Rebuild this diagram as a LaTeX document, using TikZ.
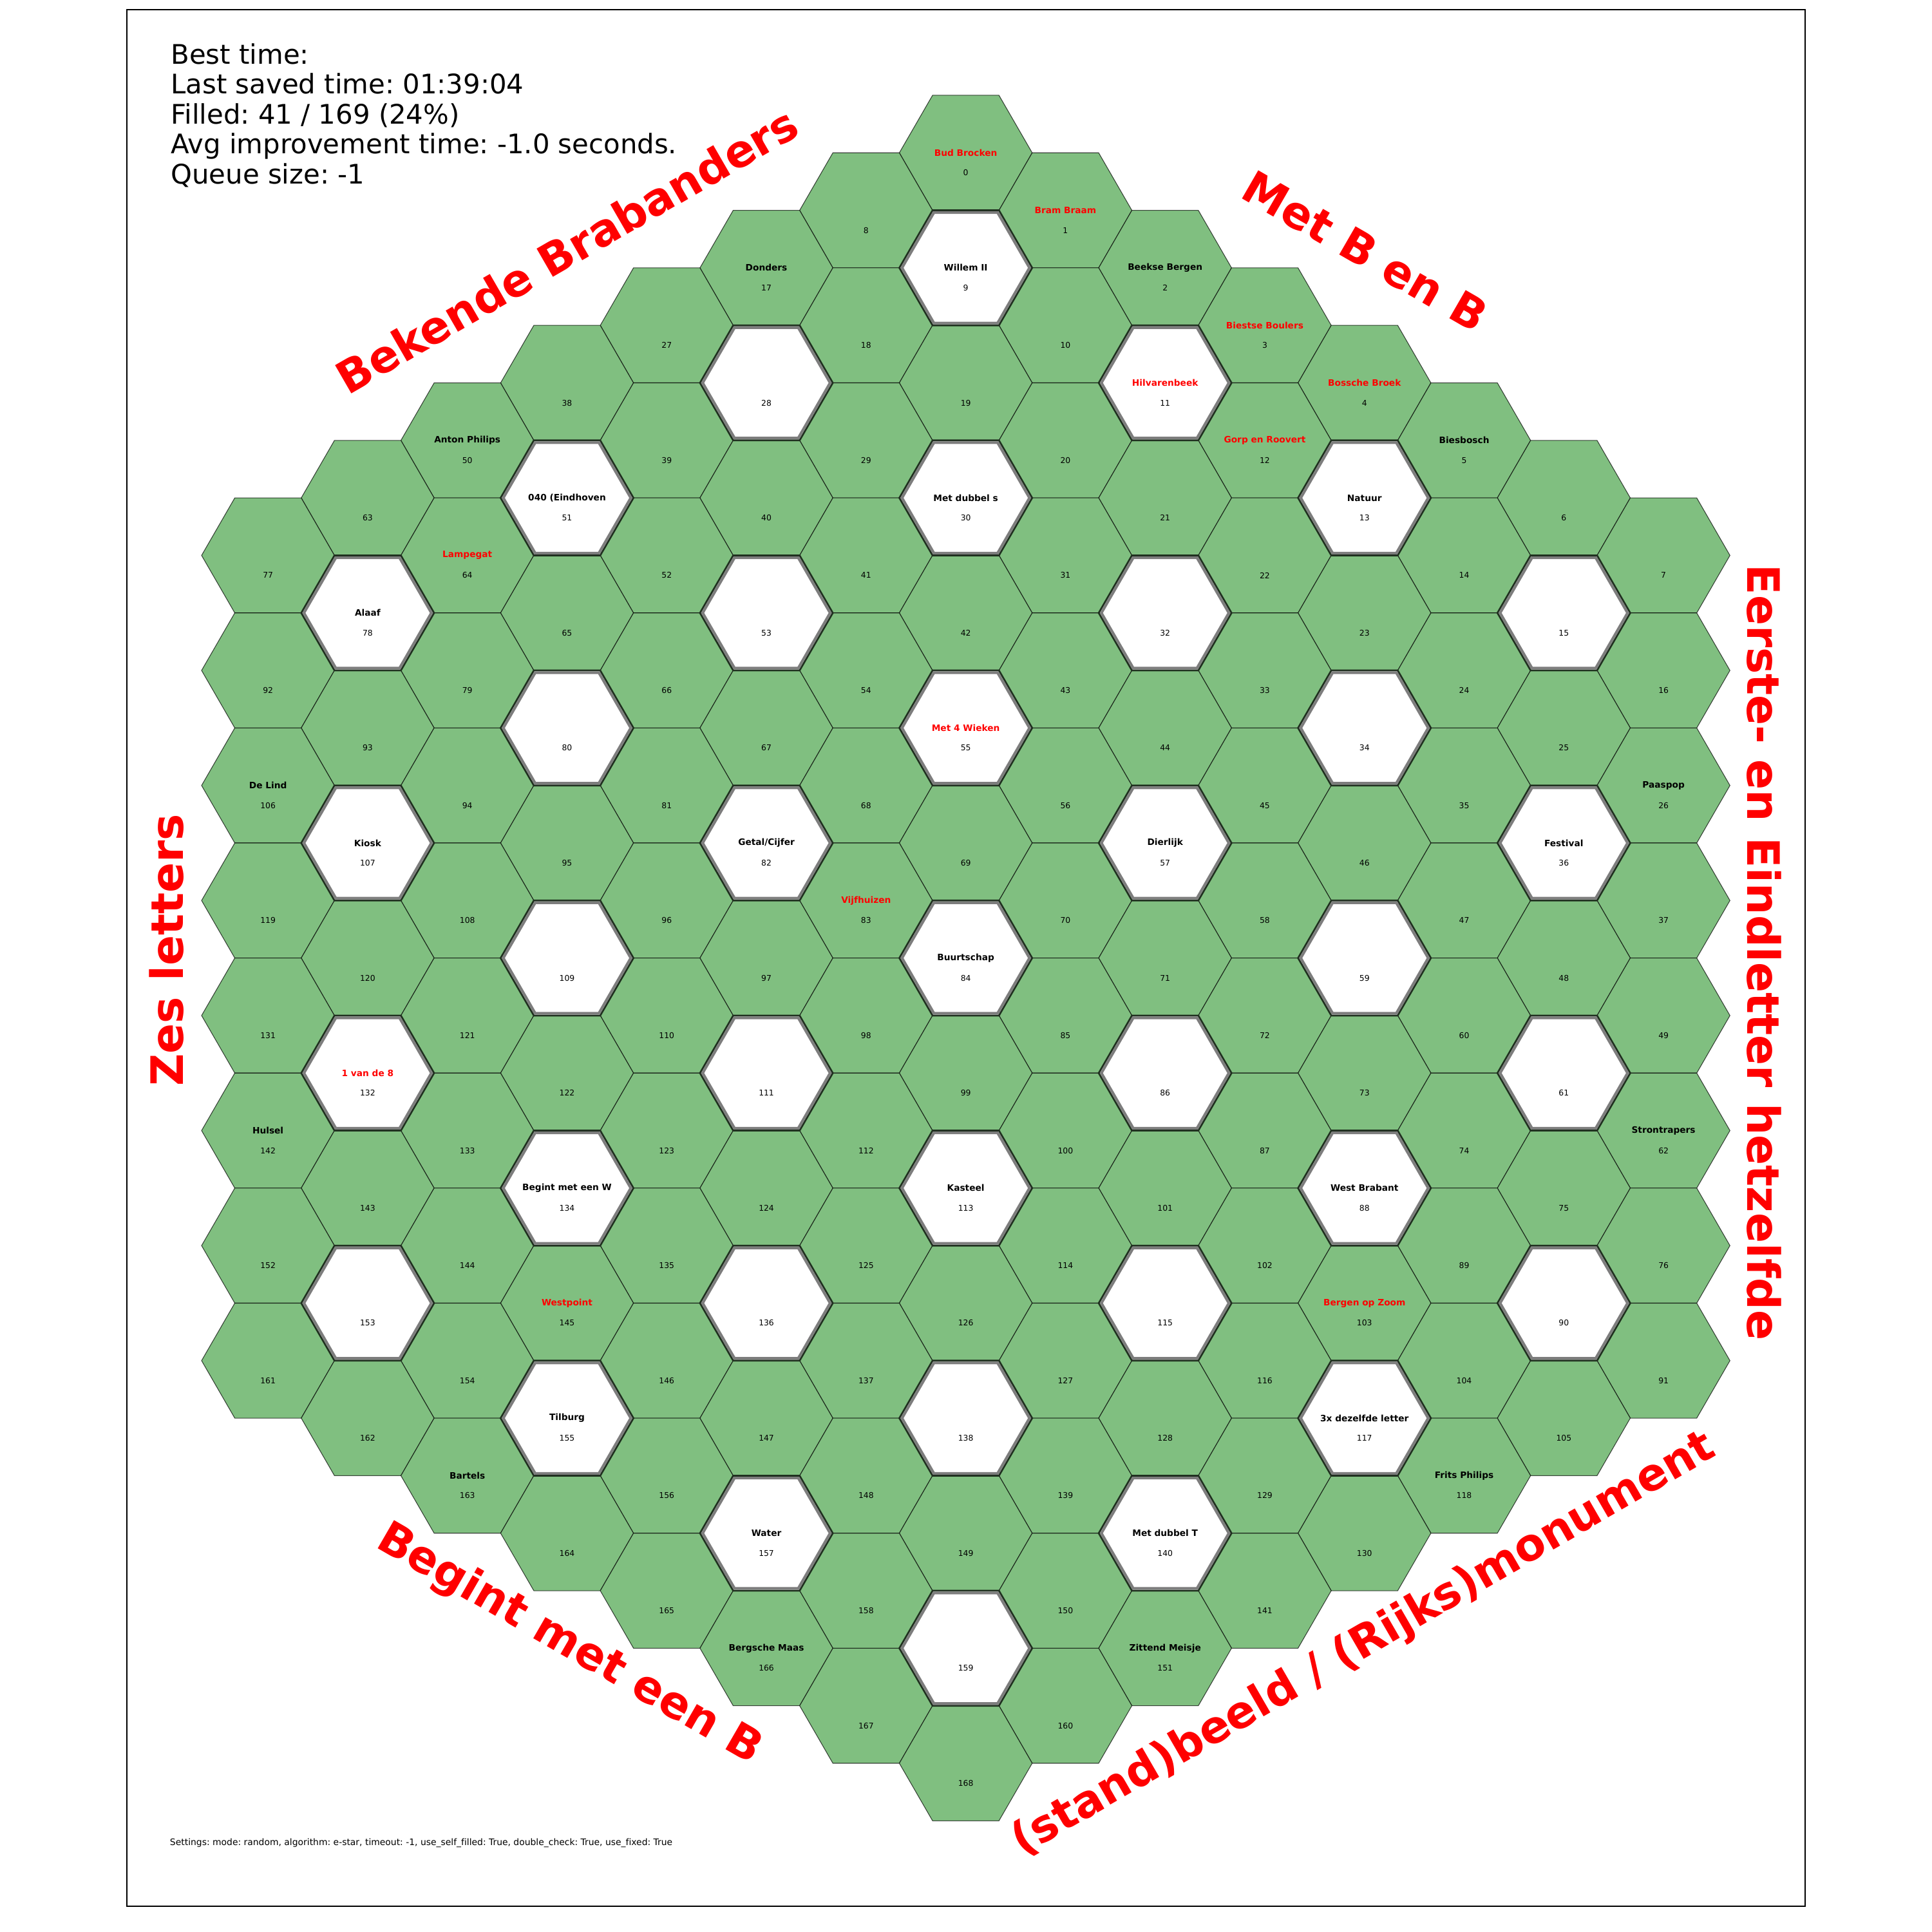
\documentclass[tikz,border=0pt]{standalone}
\usepackage{fontspec}
\setmainfont{DejaVu Sans}[Ligatures=NoCommon]
\frenchspacing
\definecolor{hexgreen}{RGB}{128,191,128}
\definecolor{rimgray}{RGB}{125,125,125}
\pgfdeclarelayer{back}
\pgfsetlayers{back,main}
\tikzset{
  hexpath/.style={insert path={+(0:#1) -- +(60:#1) -- +(120:#1) -- +(180:#1) -- +(240:#1) -- +(300:#1) -- cycle}},
  cell/.style={fill=hexgreen,draw=black,draw opacity=0.7,line width=0.4pt},
  clue/.style={fill=white},
  cluerim/.style={draw=rimgray,line width=1.5pt},
  clueedge/.style={draw=black!75!hexgreen,line width=1pt},
  num/.style={inner sep=0pt,font=\fontsize{4.6}{5}\selectfont},
  fixedlbl/.style={inner sep=0pt,font=\fontsize{5.1}{6}\selectfont\bfseries},
  selflbl/.style={fixedlbl,text=red},
  side/.style={inner sep=0pt,text=red,font=\fontsize{25.8}{30}\selectfont\bfseries},
  info/.style={inner sep=0pt,anchor=base west,font=\fontsize{15.55}{18}\selectfont}
}
\begin{document}
\begin{tikzpicture}[x=0.25mm,y=-0.25mm]
\useasboundingbox (0,0) rectangle (1568,1568);
\draw[line width=0.7pt] (103,8) rectangle (1465,1547);
% 15 rows of the big hexagon, 8 .. 15 .. 8 cells
\foreach \r in {0,...,14}{
  \pgfmathtruncatemacro\cnt{\r<8 ? 8+\r : 22-\r}
  \pgfmathtruncatemacro\cs{\r<8 ? 7-\r : 0}
  \pgfmathtruncatemacro\ks{\r<8 ? \r : 2*\r-7}
  \pgfmathtruncatemacro\base{\r<8 ? 8*\r+\r*(\r-1)/2 : 92+22*(\r-8)-(\r*(\r-1)/2-28)}
  \pgfmathtruncatemacro\last{\cnt-1}
  \foreach \i in {0,...,\last}{
    \pgfmathtruncatemacro\n{\base+\i}
    \pgfmathsetmacro\cx{217.5+80.9*(\cs+\i)}
    \pgfmathsetmacro\cy{124+46.68*(\ks+\i)}
    \pgfmathtruncatemacro\clueon{mod(\r,2)*mod(\i,2)}
    \coordinate (h\n) at (\cx,\cy);
    \ifnum\clueon=1
      \path[clue] (h\n) [hexpath=53.9];
      \draw[cluerim] (h\n) [hexpath=51.7];
      \draw[clueedge] (h\n) [hexpath=53.9];
    \else
      \begin{pgfonlayer}{back}
        \path[cell] (h\n) [hexpath=53.9];
      \end{pgfonlayer}
    \fi
    \node[num] (n\n) at (\cx,{\cy+16.2}) {\n};
  }
}
% filled in
\foreach \n/\t in {2/Beekse Bergen, 5/Biesbosch, 9/Willem II, 13/Natuur, 17/Donders,
  26/Paaspop, 30/Met dubbel s, 36/Festival, 50/Anton Philips, 51/040 (Eindhoven,
  57/Dierlijk, 62/Strontrapers, 78/Alaaf, 82/{Getal/Cijfer}, 84/Buurtschap,
  88/West Brabant, 106/De Lind, 107/Kiosk, 113/Kasteel, 117/3x dezelfde letter,
  118/Frits Philips, 134/Begint met een W, 140/Met dubbel T, 142/Hulsel,
  151/Zittend Meisje, 155/Tilburg, 157/Water, 163/Bartels, 166/Bergsche Maas}
  \node[fixedlbl] (l\n) at (h\n) {\t};
\foreach \n/\t in {0/Bud Brocken, 1/Bram Braam, 3/Biestse Boulers, 4/Bossche Broek,
  11/Hilvarenbeek, 12/Gorp en Roovert, 55/Met 4 Wieken, 64/Lampegat,
  83/Vijfhuizen, 103/Bergen op Zoom, 132/1 van de 8, 145/Westpoint}
  \node[selflbl] (l\n) at (h\n) {\t};
% themes along the six sides
\node[side,rotate=30] (sideA) at (460,203) {Bekende Brabanders};
\node[side,rotate=-30] (sideB) at (1108,204) {Met B en B};
\node[side,rotate=-90] (sideC) at (1432,773) {Eerste- en Eindletter hetzelfde};
\node[side,rotate=30] (sideD) at (1107,1335) {(stand)beeld / (Rijks)monument};
\node[side,rotate=-30] (sideE) at (462,1335) {Begint met een B};
\node[side,rotate=90] (sideF) at (135,771) {Zes letters};
% status
\foreach \t [count=\k from 0] in {Best time:, Last saved time: 01:39:04,
  Filled: 41 / 169 (24\%), Avg improvement time: -1.0 seconds., Queue size: -1}
  \node[info] (info\k) at (138.5,{51.9+24.3*\k}) {\t};
\node[inner sep=0pt,anchor=base west,font=\fontsize{5.17}{6}\selectfont] (settings) at (137.7,1497.6)
  {Settings: mode: random, algorithm: e-star, timeout: -1, use\_self\_filled: True, double\_check: True, use\_fixed: True};
\end{tikzpicture}
\end{document}
